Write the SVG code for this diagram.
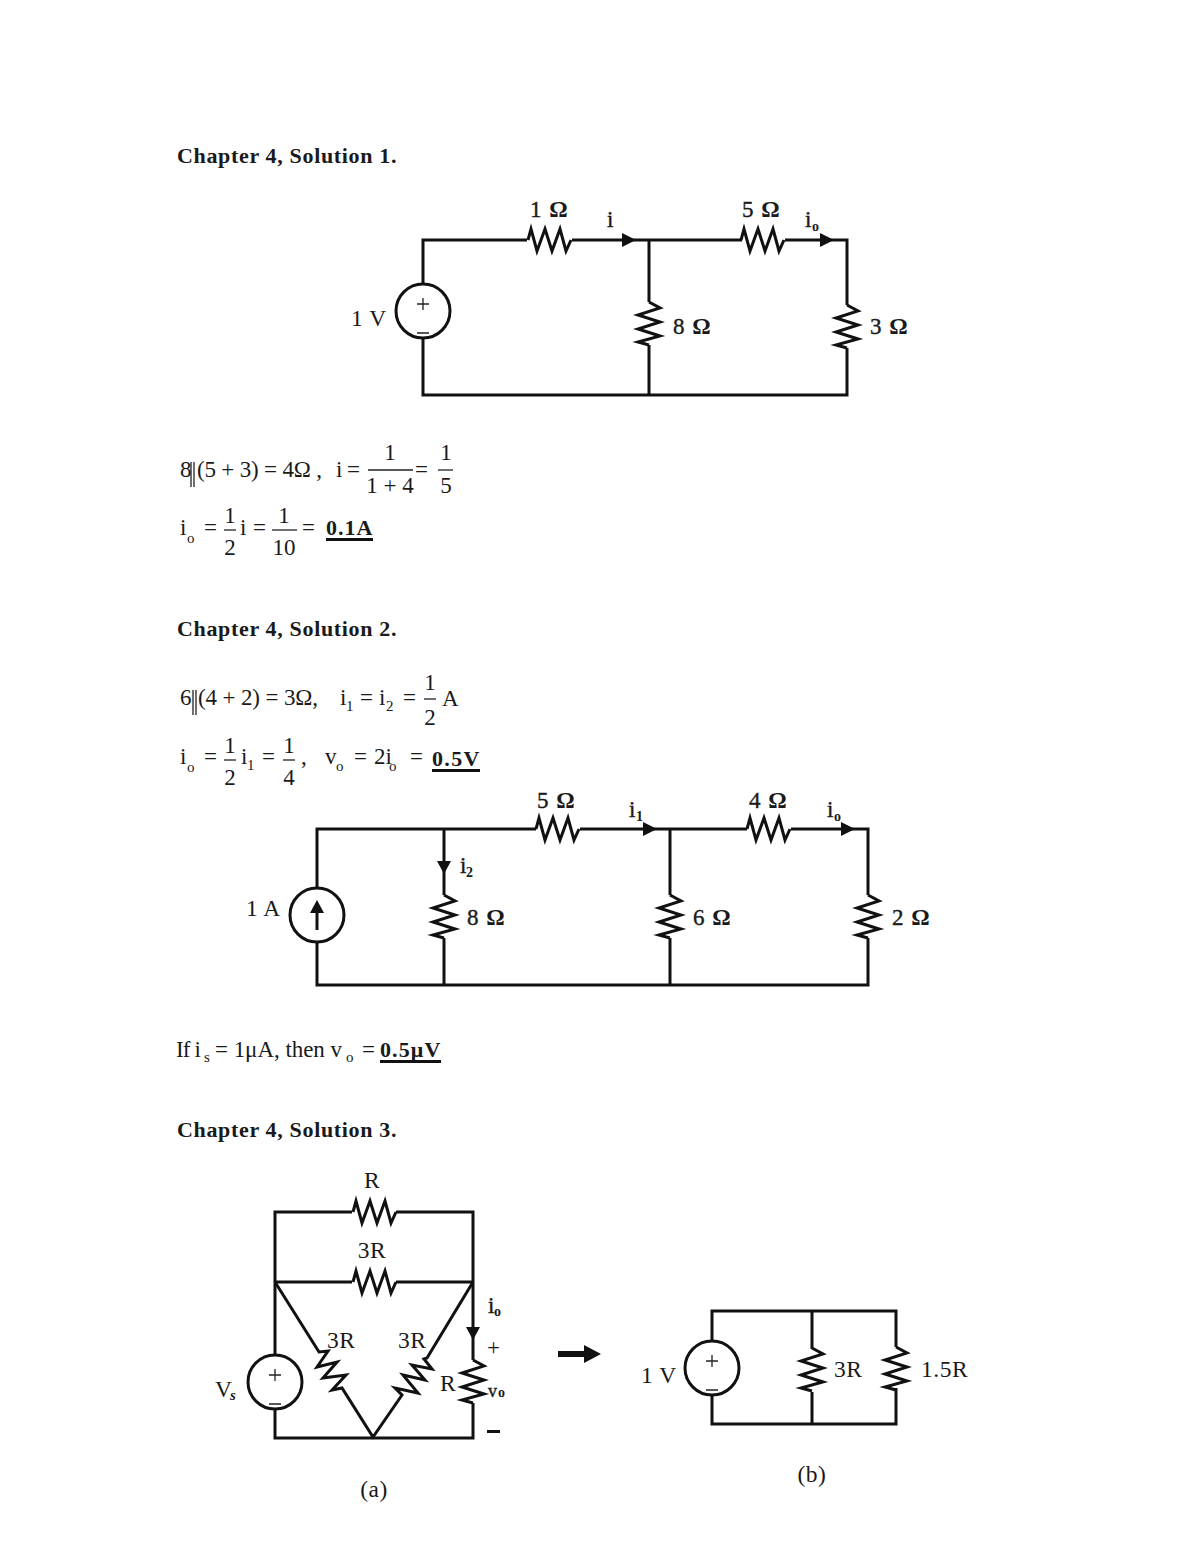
<svg xmlns="http://www.w3.org/2000/svg" xmlns:xlink="http://www.w3.org/1999/xlink" width="1200" height="1553" viewBox="0 0 1200 1553">
<style>
text{font-family:"Liberation Serif","Times New Roman",serif;fill:#1a1a1a}
.h{font-size:22px;font-weight:bold;letter-spacing:.66px}
.m{font-size:23px}
.c{text-anchor:middle}
.s{font-size:15px}
.sb{font-size:14px;font-weight:bold}
.l{font-size:23px;letter-spacing:1px;stroke:#1a1a1a;stroke-width:.4}
.o{font-weight:bold;stroke:none}
.r{font-size:23.5px;letter-spacing:.5px}
.w{fill:none;stroke:#111;stroke-width:3;stroke-linejoin:miter}
.z{fill:none;stroke:#111;stroke-width:3;stroke-linejoin:miter}
.b{fill:none;stroke:#222;stroke-width:1.3}
.u{fill:#111}
.sc{fill:#fff;stroke:#111;stroke-width:3}
.p{fill:none;stroke:#222;stroke-width:1.3}
</style>
<defs>
<path id="rh" class="z" d="M0 0L3-11L9 11L17-11L24 11L32-11L38 11L43 0"/>
<path id="rv" class="z" d="M0 0L11 6L-11 13L11 20L-11 27L11 34L-11 40L0 43"/>
<path id="ar" class="u" d="M0-7L14 0L0 7Z"/>
<path id="ad" class="u" d="M-7 0L7 0L0 13Z"/>
<g id="vs"><circle class="sc" r="27"/><path class="p" d="M-6-7H6M0-13V-1M-6 22H6"/></g>
</defs>
<g id="headings">
<text class="h" x="177" y="163">Chapter 4, Solution 1.</text>
<text class="h" x="177" y="636">Chapter 4, Solution 2.</text>
<text class="h" x="177" y="1137">Chapter 4, Solution 3.</text>
</g>
<g id="connectors">
<path class="w" d="M423 284V240H527M572 240H742M785 240H847V305M847 348V395H423V338M649 240V302M649 345V395"/>
<path class="w" d="M317 888V829H536M580 829H747M791 829H868V895M868 938V985H317V942M444 829V895M444 938V985M670 829V895M670 938V985"/>
<path class="w" d="M275 1355V1212H352M396 1212H473V1360M473 1403V1438H275V1409M275 1282H352M396 1282H473"/>
<path class="w" d="M275 1282L319 1352L328 1351L317 1367L337 1362L323 1378L346 1375L332 1390L342 1388L373 1437L402 1395L395 1388L418 1393L403 1375L425 1380L412 1365L432 1369L424 1359L427 1358L473 1282"/>
<path class="w" d="M712 1341V1311H896V1347M896 1388V1424H712V1395M812 1311V1349M812 1392V1424"/>
</g>
<g id="c1-source"><use xlink:href="#vs" x="423" y="311"/><text class="r" x="351" y="326">1 V</text></g>
<g id="c1-r1"><use xlink:href="#rh" x="528" y="240"/><text class="l" x="530" y="217">1 <tspan class="o">Ω</tspan></text></g>
<g id="c1-r5"><use xlink:href="#rh" x="741" y="240"/><text class="l" x="742" y="217">5 <tspan class="o">Ω</tspan></text></g>
<g id="c1-r8"><use xlink:href="#rv" x="649" y="302"/><text class="l" x="673" y="334">8 <tspan class="o">Ω</tspan></text></g>
<g id="c1-r3"><use xlink:href="#rv" x="847" y="305"/><text class="l" x="870" y="334">3 <tspan class="o">Ω</tspan></text></g>
<g id="c1-i"><use xlink:href="#ar" x="622" y="240"/><text class="l" x="607" y="227">i</text></g>
<g id="c1-io"><use xlink:href="#ar" x="820" y="240"/><text class="l" x="805" y="227">i</text><text class="sb" x="812" y="231">o</text></g>
<g id="eq1">
<text class="m" x="180" y="477">8</text><path class="b" d="M191 462V487M194 462V487"/>
<text class="m" x="197" y="477" textLength="125">(5 + 3) = 4Ω ,</text>
<text class="m" x="336" y="477" textLength="24">i =</text>
<text class="m c" x="390" y="460">1</text><path class="b" d="M368 470H413"/><text class="m c" x="390" y="493">1 + 4</text>
<text class="m" x="415" y="477">=</text>
<text class="m c" x="446" y="460">1</text><path class="b" d="M438 470H453"/><text class="m c" x="446" y="493">5</text>
<text class="m" x="180" y="535">i</text><text class="s" x="187" y="543">o</text>
<text class="m" x="204" y="535">=</text>
<text class="m c" x="230" y="523">1</text><path class="b" d="M224 530H236"/><text class="m c" x="230" y="555">2</text>
<text class="m" x="240" y="535">i</text><text class="m" x="253" y="535">=</text>
<text class="m c" x="284" y="523">1</text><path class="b" d="M272 530H297"/><text class="m c" x="284" y="555">10</text>
<text class="m" x="302" y="535">=</text>
<text class="h" x="326" y="535" textLength="47">0.1A</text><rect class="u" x="326" y="538" width="47" height="3"/>
</g>
<g id="eq2">
<text class="m" x="180" y="705">6</text><path class="b" d="M193 690V715M196 690V715"/>
<text class="m" x="198" y="705" textLength="120">(4 + 2) = 3Ω,</text>
<text class="m" x="340" y="705">i</text><text class="s" x="346" y="711">1</text>
<text class="m" x="360" y="705">=</text>
<text class="m" x="379" y="705">i</text><text class="s" x="386" y="711">2</text>
<text class="m" x="403" y="705">=</text>
<text class="m c" x="430" y="690">1</text><path class="b" d="M424 699H436"/><text class="m c" x="430" y="725">2</text>
<text class="m" x="442" y="706">A</text>
<text class="m" x="180" y="764">i</text><text class="s" x="187" y="772">o</text>
<text class="m" x="204" y="764">=</text>
<text class="m c" x="230" y="753">1</text><path class="b" d="M224 760H236"/><text class="m c" x="230" y="785">2</text>
<text class="m" x="241" y="764">i</text><text class="s" x="247" y="770">1</text>
<text class="m" x="262" y="764">=</text>
<text class="m c" x="289" y="753">1</text><path class="b" d="M283 760H295"/><text class="m c" x="289" y="785">4</text>
<text class="m" x="301" y="764">,</text>
<text class="m" x="325" y="764">v</text><text class="s" x="336" y="771">o</text>
<text class="m" x="354" y="764">=</text><text class="m" x="374" y="764">2i</text><text class="s" x="389" y="771">o</text>
<text class="m" x="410" y="764">=</text>
<text class="h" x="432" y="766" textLength="48">0.5V</text><rect class="u" x="432" y="769" width="48" height="3"/>
</g>
<g id="c2-source"><circle class="sc" cx="317" cy="915" r="27"/><path class="w" d="M317 930V910"/><path class="u" d="M310 913L317 900L324 913Z"/><text class="r" x="246" y="916">1 A</text></g>
<g id="c2-r5"><use xlink:href="#rh" x="536" y="829"/><text class="l" x="537" y="808">5 <tspan class="o">Ω</tspan></text></g>
<g id="c2-r4"><use xlink:href="#rh" x="747" y="829"/><text class="l" x="749" y="808">4 <tspan class="o">Ω</tspan></text></g>
<g id="c2-r8"><use xlink:href="#rv" x="444" y="895"/><text class="l" x="467" y="925">8 <tspan class="o">Ω</tspan></text></g>
<g id="c2-r6"><use xlink:href="#rv" x="670" y="895"/><text class="l" x="693" y="925">6 <tspan class="o">Ω</tspan></text></g>
<g id="c2-r2"><use xlink:href="#rv" x="868" y="895"/><text class="l" x="892" y="925">2 <tspan class="o">Ω</tspan></text></g>
<g id="c2-i1"><use xlink:href="#ar" x="643" y="829"/><text class="l" x="629" y="817">i</text><text class="sb" x="636" y="821">1</text></g>
<g id="c2-io"><use xlink:href="#ar" x="841" y="829"/><text class="l" x="827" y="817">i</text><text class="sb" x="834" y="821">o</text></g>
<g id="c2-i2"><use xlink:href="#ad" x="444" y="861"/><text class="l" x="460" y="873">i</text><text class="sb" x="466" y="877">2</text></g>
<g id="note">
<text class="m" x="176" y="1057" textLength="25">If i</text><text class="s" x="204" y="1062">s</text>
<text class="m" x="215" y="1057" textLength="127">= 1μA, then v</text><text class="s" x="346" y="1062">o</text>
<text class="m" x="362" y="1057">=</text>
<text class="h" x="380" y="1057" textLength="61">0.5μV</text><rect class="u" x="380" y="1060" width="61" height="3"/>
</g>
<g id="c3-rtop"><use xlink:href="#rh" x="353" y="1212"/><text class="r c" x="372" y="1188">R</text></g>
<g id="c3-rmid"><use xlink:href="#rh" x="353" y="1282"/><text class="r c" x="372" y="1258">3R</text></g>
<g id="c3-source"><use xlink:href="#vs" x="275" y="1382"/><text class="r" x="215" y="1397">V</text><text class="s" font-style="italic" font-weight="bold" x="230" y="1400">s</text></g>
<g id="c3-rl"><text class="r" x="327" y="1348">3R</text></g>
<g id="c3-rr"><text class="r" x="398" y="1348">3R</text></g>
<g id="c3-ro"><use xlink:href="#rv" x="473" y="1360"/><text class="r" x="440" y="1391">R</text><use xlink:href="#ad" x="473" y="1327"/>
<text class="l" x="488" y="1313">i</text><text class="sb" x="494" y="1316">o</text>
<text class="m" x="487" y="1355" font-size="24">+</text>
<text class="l" x="488" y="1397" style="font-size:18px">v</text><text class="sb" x="498" y="1397">o</text>
<rect class="u" x="487" y="1430" width="13" height="3"/></g>
<g id="arrow"><path class="u" d="M558 1351H584V1345L601 1354L584 1363V1357H558Z"/></g>
<g id="c3b-source"><use xlink:href="#vs" x="712" y="1368"/><text class="r" x="641" y="1383">1 V</text></g>
<g id="c3b-r1"><use xlink:href="#rv" x="812" y="1348"/><text class="r" x="834" y="1377">3R</text></g>
<g id="c3b-r2"><use xlink:href="#rv" x="896" y="1347"/><text class="r" x="921" y="1377">1.5R</text></g>
<g id="captions"><text class="r c" x="374" y="1497">(a)</text><text class="r c" x="812" y="1482">(b)</text></g>
</svg>
